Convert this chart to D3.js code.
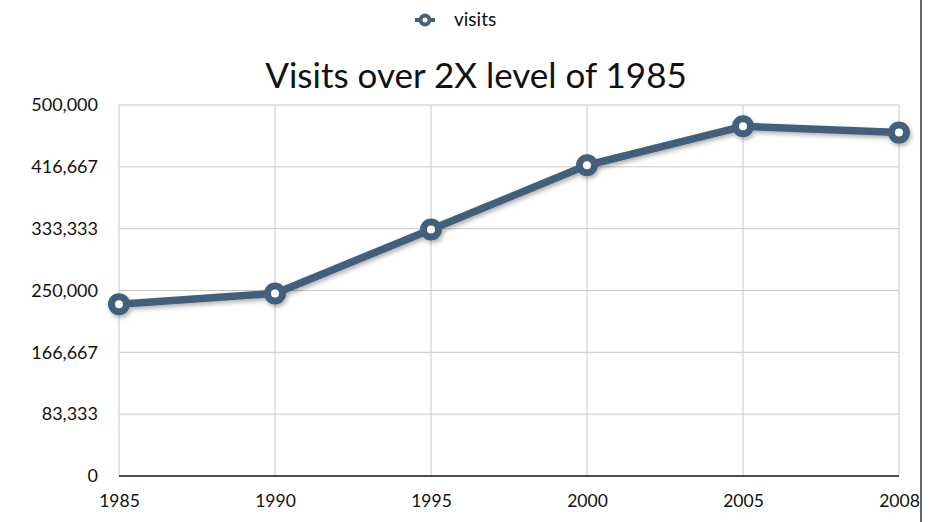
<!DOCTYPE html>
<html lang="en">
<head>
  <meta charset="UTF-8">
  <title>Visits over 2X level of 1985</title>
  <script src="https://d3js.org/d3.v7.min.js"></script>
  <style>
    body {
      margin: 0;
      overflow: hidden;
      background: white;
    }
    text {
      font-family: Lato, "Open Sans", sans-serif;
      fill: #111;
    }
  </style>
</head>
<body>
  <script>
    const width = 938;
    const height = 522;

    const years = ["1985", "1990", "1995", "2000", "2005", "2008"];
    const visits = [231600, 246000, 332200, 418800, 471300, 462800];
    const yTicks = [0, 83333, 166667, 250000, 333333, 416667, 500000];
    const seriesName = "visits";
    const title = "Visits over 2X level of 1985";

    const lineColor = "#43617c";
    const margin = { top: 105, right: 39, bottom: 46, left: 119 };

    const svg = d3.select("body")
      .append("svg")
      .attr("width", width)
      .attr("height", height);

    const defs = svg.append("defs");
    const shadow = defs.append("filter")
      .attr("id", "shadow")
      .attr("x", "-10%").attr("y", "-20%")
      .attr("width", "120%").attr("height", "160%");
    shadow.append("feDropShadow")
      .attr("dx", 1.5).attr("dy", 2.5)
      .attr("stdDeviation", 2)
      .attr("flood-color", "#000")
      .attr("flood-opacity", 0.3);

    const x = d3.scalePoint()
      .domain(years)
      .range([margin.left, width - margin.right]);

    const y = d3.scaleLinear()
      .domain([0, 500000])
      .range([height - margin.bottom, margin.top]);

    const grid = svg.append("g");

    grid.selectAll(".hgrid")
      .data(yTicks.slice(1))
      .enter()
      .append("line")
      .attr("x1", margin.left)
      .attr("x2", width - margin.right)
      .attr("y1", d => y(d))
      .attr("y2", d => y(d))
      .attr("stroke", "#c9c9c9")
      .attr("stroke-width", 1);

    grid.selectAll(".vgrid")
      .data(years)
      .enter()
      .append("line")
      .attr("x1", d => x(d))
      .attr("x2", d => x(d))
      .attr("y1", margin.top)
      .attr("y2", height - margin.bottom)
      .attr("stroke", "#c9c9c9")
      .attr("stroke-width", 1);

    // bottom axis line
    svg.append("line")
      .attr("x1", margin.left)
      .attr("x2", width - margin.right)
      .attr("y1", y(0))
      .attr("y2", y(0))
      .attr("stroke", "#111")
      .attr("stroke-width", 1.5);

    const yAxis = d3.axisLeft(y)
      .tickValues(yTicks)
      .tickSize(0)
      .tickPadding(21)
      .tickFormat(d3.format(","));

    svg.append("g")
      .attr("transform", `translate(${margin.left},0)`)
      .call(yAxis)
      .call(g => g.select(".domain").remove())
      .call(g => g.attr("font-size", 18).attr("font-family", null))
      .selectAll("text")
      .attr("fill", "#111");

    const xAxis = d3.axisBottom(x)
      .tickSize(0)
      .tickPadding(19);

    svg.append("g")
      .attr("transform", `translate(0,${y(0)})`)
      .call(xAxis)
      .call(g => g.select(".domain").remove())
      .call(g => g.attr("font-size", 17.5).attr("font-family", null))
      .selectAll("text")
      .attr("fill", "#111");

    const line = d3.line()
      .x((d, i) => x(years[i]))
      .y(d => y(d));

    const series = svg.append("g")
      .attr("filter", "url(#shadow)");

    series.append("path")
      .datum(visits)
      .attr("d", line)
      .attr("fill", "none")
      .attr("stroke", lineColor)
      .attr("stroke-width", 7.5)
      .attr("stroke-linejoin", "round");

    series.selectAll("circle")
      .data(visits)
      .enter()
      .append("circle")
      .attr("cx", (d, i) => x(years[i]))
      .attr("cy", d => y(d))
      .attr("r", 7.5)
      .attr("fill", "white")
      .attr("stroke", lineColor)
      .attr("stroke-width", 7);

    svg.append("text")
      .attr("x", 476)
      .attr("y", 88)
      .attr("text-anchor", "middle")
      .attr("font-size", 35)
      .text(title);

    // legend
    const legend = svg.append("g")
      .attr("transform", "translate(425,20)");
    legend.append("line")
      .attr("x1", -10).attr("x2", 10)
      .attr("stroke", lineColor)
      .attr("stroke-width", 4);
    legend.append("circle")
      .attr("r", 4.5)
      .attr("fill", "white")
      .attr("stroke", lineColor)
      .attr("stroke-width", 4);
    legend.append("text")
      .attr("x", 29)
      .attr("y", 6)
      .attr("font-size", 19)
      .text(seriesName);

    // frame edge at right
    svg.append("line")
      .attr("x1", 921).attr("x2", 921)
      .attr("y1", 0).attr("y2", height)
      .attr("stroke", "#333")
      .attr("stroke-width", 1.5);
  </script>
</body>
</html>
